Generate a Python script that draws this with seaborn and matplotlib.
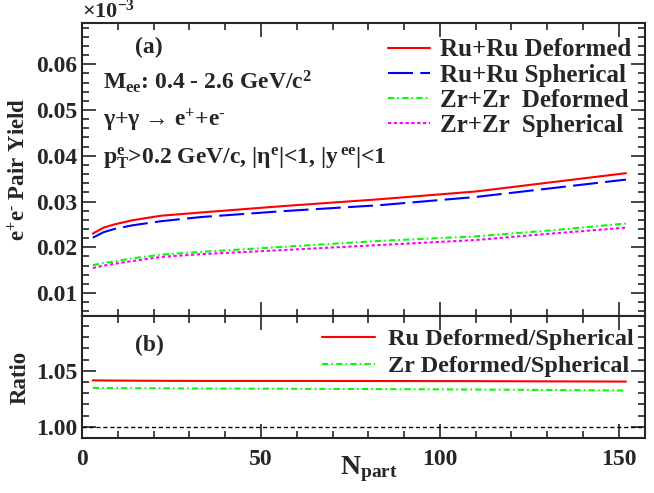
import matplotlib
matplotlib.use('Agg')
import matplotlib.pyplot as plt
import seaborn as sns
import pandas as pd
from matplotlib.ticker import MultipleLocator

# data
n_part = [3, 6, 9, 14, 22, 33, 56, 83, 110, 131, 152]
ru_def = [0.0230, 0.0243, 0.0250, 0.0259, 0.0269, 0.0276, 0.0290, 0.0305, 0.0322, 0.0342, 0.0362]
ru_sph = [0.0221, 0.0233, 0.0240, 0.0248, 0.0257, 0.0266, 0.0279, 0.0292, 0.0310, 0.0329, 0.0348]
zr_def = [0.0161, 0.0166, 0.0169, 0.0176, 0.0184, 0.0190, 0.0201, 0.0214, 0.0224, 0.0237, 0.0252]
zr_sph = [0.0155, 0.0160, 0.0164, 0.0170, 0.0179, 0.0185, 0.0194, 0.0205, 0.0216, 0.0230, 0.0243]
ru_ratio = [1.0415, 1.0414, 1.0413, 1.0412, 1.0411, 1.0410, 1.0410, 1.0409, 1.0408, 1.0406, 1.0404]
zr_ratio = [1.0348, 1.0347, 1.0346, 1.0345, 1.0344, 1.0342, 1.0340, 1.0337, 1.0333, 1.0329, 1.0324]

sns.set_style('ticks')
plt.rcParams['font.family'] = ['Liberation Serif', 'DejaVu Serif']
plt.rcParams['font.weight'] = 'bold'
plt.rcParams['axes.labelweight'] = 'bold'
plt.rcParams['mathtext.fontset'] = 'custom'
plt.rcParams['mathtext.rm'] = 'Liberation Serif:bold'
plt.rcParams['mathtext.it'] = 'Liberation Serif:bold'
plt.rcParams['mathtext.bf'] = 'Liberation Serif:bold'
plt.rcParams['axes.linewidth'] = 1.5

fig = plt.figure(figsize=(6.54, 4.93), dpi=100)
ax1 = fig.add_axes([0.1254, 0.359, 0.8608, 0.5943])
ax2 = fig.add_axes([0.1254, 0.1116, 0.8608, 0.2474], sharex=ax1)

df = pd.DataFrame({'N': n_part, 'rd': ru_def, 'rs': ru_sph, 'zd': zr_def, 'zs': zr_sph,
                   'rr': ru_ratio, 'zr': zr_ratio})

dash_b = [12, 3.5]
dash_g = [3, 1.5, 0.8, 1.5]
dash_m = [1.6, 1.2]

sns.lineplot(data=df, x='N', y='rd', ax=ax1, color='#ff0000', lw=1.5, label='Ru+Ru Deformed')
sns.lineplot(data=df, x='N', y='rs', ax=ax1, color='#0000ff', lw=1.5,
             label='Ru+Ru Spherical').lines[-1].set_dashes(dash_b)
sns.lineplot(data=df, x='N', y='zd', ax=ax1, color='#00ff00', lw=1.5,
             label='Zr+Zr  Deformed').lines[-1].set_dashes(dash_g)
sns.lineplot(data=df, x='N', y='zs', ax=ax1, color='#ff00ff', lw=1.5,
             label='Zr+Zr  Spherical').lines[-1].set_dashes(dash_m)

sns.lineplot(data=df, x='N', y='rr', ax=ax2, color='#ff0000', lw=1.5, label='Ru Deformed/Spherical')
sns.lineplot(data=df, x='N', y='zr', ax=ax2, color='#00ff00', lw=1.5,
             label='Zr Deformed/Spherical').lines[-1].set_dashes(dash_g)
ax2.axhline(1.0, color='black', lw=1, ls=(0, (3, 2)))

ax1.set_xlim(0, 157.3)
ax1.set_ylim(0.005, 0.069)
ax2.set_ylim(0.99, 1.099)

for ax in (ax1, ax2):
    ax.tick_params(which='both', direction='in', top=True, right=True, width=1.2, labelsize=17)
    ax.tick_params(which='major', length=10)
    ax.tick_params(which='minor', length=5)
    ax.xaxis.set_major_locator(MultipleLocator(50))
    ax.xaxis.set_minor_locator(MultipleLocator(10))
    for s in ax.spines.values():
        s.set_linewidth(1.5)

ax1.set_yticks([0.01, 0.02, 0.03, 0.04, 0.05, 0.06])
ax1.set_yticklabels(['0.01', '0.02', '0.03', '0.04', '0.05', '0.06'])
ax1.yaxis.set_minor_locator(MultipleLocator(0.002))
ax1.tick_params(axis='x', labelbottom=False)
ax2.set_yticks([1.00, 1.05])
ax2.set_yticklabels(['1.00', '1.05'])
ax2.yaxis.set_minor_locator(MultipleLocator(0.01))
ax2.tick_params(axis='x', pad=8)

ax1.set_xlabel('')
ax1.set_ylabel(r'e$^{+}$e$^{\text{-}}$ Pair Yield', fontsize=16.5, fontweight='bold')
ax2.set_ylabel('Ratio', fontsize=16.5, fontweight='bold')
ax2.set_xlabel(r'N$_{\mathregular{part}}$', fontsize=20, fontweight='bold')
ax2.xaxis.set_label_coords(0.51, -0.135)
ax1.yaxis.set_label_coords(-0.092, 0.5)
ax2.yaxis.set_label_coords(-0.092, 0.5)

fig.text(0.1254, 0.978, r'$\times$10$^{-3}$', fontsize=16, va='center', ha='left')

ax1.text(0.095, 0.917, '(a)', transform=ax1.transAxes, fontsize=17, va='center')
ax1.text(0.038, 0.80, r'M$_{\mathregular{ee}}$: 0.4 - 2.6 GeV/c$^{2}$', transform=ax1.transAxes,
         fontsize=17, va='center')
ax1.text(0.038, 0.67, r'γ+γ → e$^{+}$+e$^{\text{-}}$', transform=ax1.transAxes,
         fontsize=17, va='center')
ax1.text(0.038, 0.54, r'p$_{\mathregular{T}}^{\mathregular{e}}$>0.2 GeV/c, |η$^{\mathregular{e}}$|<1, |y$^{\,\mathregular{ee}}$|<1',
         transform=ax1.transAxes, fontsize=17, va='center')
ax2.text(0.095, 0.76, '(b)', transform=ax2.transAxes, fontsize=17, va='center')

ax1.legend(loc='upper left', bbox_to_anchor=(0.5435, 0.948), frameon=False, fontsize=18,
           handlelength=1.7, handletextpad=0.4, labelspacing=0.09, borderpad=0, borderaxespad=0)
ax2.legend(loc='upper left', bbox_to_anchor=(0.426, 0.90), frameon=False, fontsize=17.5,
           handlelength=2.2, handletextpad=0.53, labelspacing=0.21, borderpad=0, borderaxespad=0)

fig.savefig('out.png', dpi=100)
